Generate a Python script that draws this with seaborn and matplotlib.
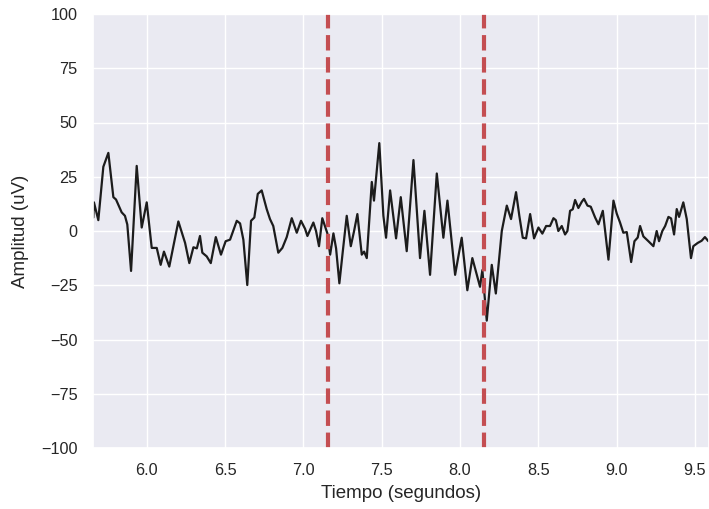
import matplotlib
matplotlib.use("Agg")
import matplotlib.pyplot as plt
import seaborn as sns
import pandas as pd

tiempo = [5.659, 5.663, 5.691, 5.723, 5.755, 5.787, 5.804, 5.840, 5.861, 5.876,
          5.900, 5.936, 5.968, 6.000, 6.032, 6.064, 6.089, 6.110, 6.144, 6.202,
          6.245, 6.272, 6.298, 6.320, 6.340, 6.355, 6.383, 6.409, 6.441, 6.474,
          6.504, 6.532, 6.575, 6.596, 6.617, 6.642, 6.666, 6.687, 6.709, 6.734,
          6.766, 6.787, 6.808, 6.840, 6.866, 6.894, 6.926, 6.958, 6.985, 7.011,
          7.026, 7.043, 7.064, 7.081, 7.100, 7.121, 7.139, 7.153, 7.171, 7.192,
          7.209, 7.230, 7.252, 7.277, 7.303, 7.324, 7.345, 7.373, 7.388, 7.405,
          7.437, 7.451, 7.485, 7.511, 7.528, 7.554, 7.592, 7.622, 7.660, 7.703,
          7.745, 7.773, 7.809, 7.852, 7.894, 7.920, 7.969, 8.011, 8.047, 8.079,
          8.128, 8.143, 8.171, 8.203, 8.229, 8.267, 8.299, 8.326, 8.358, 8.379,
          8.401, 8.422, 8.448, 8.473, 8.501, 8.526, 8.550, 8.575, 8.597, 8.612,
          8.628, 8.650, 8.671, 8.686, 8.703, 8.720, 8.735, 8.756, 8.778, 8.792,
          8.814, 8.835, 8.863, 8.884, 8.912, 8.948, 8.980, 9.001, 9.022, 9.043,
          9.065, 9.093, 9.114, 9.135, 9.150, 9.171, 9.203, 9.235, 9.256, 9.271,
          9.292, 9.310, 9.331, 9.348, 9.367, 9.384, 9.399, 9.426, 9.448, 9.475,
          9.490, 9.518, 9.543, 9.564, 9.586]
amplitud = [6.2, 13.2, 5.0, 29.6, 36.0, 15.6, 14.5, 8.6, 7.0, 3.0,
            -18.4, 30.0, 1.6, 13.2, -7.8, -7.8, -15.6, -9.5, -16.4, 4.4,
            -5.5, -14.8, -7.5, -8.0, -2.3, -10.0, -11.7, -14.8, -2.8, -10.9,
            -4.7, -4.0, 4.7, 3.5, -4.0, -24.9, 4.7, 6.2, 17.1, 18.7,
            10.1, 5.5, 2.3, -10.0, -7.8, -2.8, 5.9, -0.8, 4.7, 1.0,
            -2.3, 0.5, 3.9, 0.0, -7.0, 5.9, 2.0, -1.0, -10.9, -1.1,
            -8.0, -24.1, -9.3, 7.0, -7.0, 0.0, 7.8, -10.9, -9.5, -12.5,
            22.6, 14.0, 40.5, 7.0, -3.1, 18.7, -3.4, 15.6, -9.3, 32.7,
            -12.5, 9.3, -20.2, 26.5, -3.1, 14.0, -20.2, -3.1, -27.3, -12.5,
            -25.7, -18.0, -41.3, -15.6, -28.8, 0.0, 11.7, 5.5, 17.9, 7.0,
            -3.1, -3.4, 7.8, -3.4, 1.6, -1.2, 2.3, 2.3, 5.9, 5.0,
            0.0, 2.3, -1.6, 0.0, 9.3, 10.0, 14.3, 10.6, 13.5, 14.8,
            11.7, 11.2, 6.2, 3.1, 9.3, -13.2, 14.0, 8.0, 3.9, -0.8,
            -0.5, -14.3, -4.7, -3.0, 2.3, -2.5, -4.7, -7.0, 0.0, -4.7,
            0.0, 2.3, 6.5, 5.8, -1.6, 10.1, 6.5, 13.2, 5.5, -12.5,
            -7.0, -5.5, -4.5, -2.8, -4.7]
marcas = [7.156, 8.156]
yticks = [-100, -75, -50, -25, 0, 25, 50, 75, 100]
xticks = [6.0, 6.5, 7.0, 7.5, 8.0, 8.5, 9.0, 9.5]

sns.set_theme(style="darkgrid", color_codes=True)
plt.rcParams['font.family'] = ['Liberation Sans', 'DejaVu Sans']

df = pd.DataFrame({"t": tiempo, "a": amplitud})

fig = plt.figure(figsize=(7.09, 5.09), dpi=100)
ax = fig.add_axes([93 / 709, (509 - 448) / 509, (709 - 93) / 709, (448 - 14) / 509])
sns.lineplot(data=df, x="t", y="a", ax=ax, color="#1c1c1c", linewidth=1.6)
for m in marcas:
    ax.axvline(m, color="r", linestyle="--", linewidth=3)

ax.set_xlim(5.657, 9.59)
ax.set_ylim(-100, 100)
ax.set_yticks(yticks)
ax.set_xticks(xticks)
ax.set_xlabel("Tiempo (segundos)", fontsize=13.5, labelpad=5)
ax.set_ylabel("Amplitud (uV)", fontsize=13.5, labelpad=9)
ax.tick_params(labelsize=11.7)
ax.tick_params(axis="y", pad=5)
ax.tick_params(axis="x", pad=4.5)

fig.savefig("out.png", dpi=100)
